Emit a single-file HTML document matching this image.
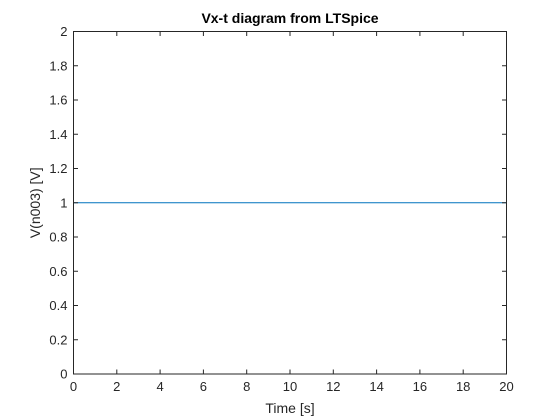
<!DOCTYPE html>
<html><head><meta charset="utf-8"><style>
body{margin:0;background:#fff;}
svg{display:block;font-family:"Liberation Sans",Arial,sans-serif;}
</style></head><body>
<svg id="chart" width="560" height="420" viewBox="0 0 560 420">
<rect x="0" y="0" width="560" height="420" fill="#fff"/>
<g id="axes"></g>
</svg>
<script>
const xTicks=[0,2,4,6,8,10,12,14,16,18,20];
const yTicks=[0,0.2,0.4,0.6,0.8,1,1.2,1.4,1.6,1.8,2];
const yTickLabels=["0","0.2","0.4","0.6","0.8","1","1.2","1.4","1.6","1.8","2"];
const seriesT=[0,20];
const seriesV=[1,1];
const L=73.5,R=506.5,T=31.5,B=374;
const xs=v=>L+(v-0)/(20-0)*(R-L);
const ys=v=>B-(v-0)/(2-0)*(B-T);
const NS="http://www.w3.org/2000/svg";
const g=document.getElementById('axes');
function mk(tag,attrs,parent){const e=document.createElementNS(NS,tag);for(const k in attrs)e.setAttribute(k,attrs[k]);(parent||g).appendChild(e);return e;}
// series
const pts=seriesT.map((t,i)=>xs(t)+','+ys(seriesV[i])).join(' ');
const line=mk('polyline',{points:pts,fill:'none',stroke:'#0072bd','stroke-width':1});


// box
const box=mk('rect',{x:L,y:T,width:R-L,height:B-T,fill:'none',stroke:'#262626','stroke-width':1});


xTicks.forEach(v=>{
  const x=xs(v);
  mk('line',{x1:x,y1:B,x2:x,y2:B-4.5,stroke:'#262626'});
  mk('line',{x1:x,y1:T,x2:x,y2:T+4.5,stroke:'#262626'});
  const t=mk('text',{x:x,y:B+17,'text-anchor':'middle','font-size':13,fill:'#262626'});
  t.textContent=v;
  
  
});
yTicks.forEach((v,i)=>{
  const y=ys(v);
  mk('line',{x1:L,y1:y,x2:L+4.5,y2:y,stroke:'#262626'});
  mk('line',{x1:R,y1:y,x2:R-4.5,y2:y,stroke:'#262626'});
  const t=mk('text',{x:L-6,y:y+4.5,'text-anchor':'end','font-size':13,fill:'#262626'});
  t.textContent=yTickLabels[i];
  
  
});
const title=mk('text',{x:(L+R)/2,y:23,'text-anchor':'middle','font-size':14,'font-weight':'bold',fill:'#000'});
title.textContent='Vx-t diagram from LTSpice';


const xl=mk('text',{x:(L+R)/2,y:413,'text-anchor':'middle','font-size':14,fill:'#262626'});
xl.textContent='Time [s]';


const yl=mk('text',{x:0,y:0,'text-anchor':'middle','font-size':14,fill:'#262626',transform:'translate(40,'+((T+B)/2)+') rotate(-90)'});
yl.textContent='V(n003) [V]';


</script>
</body></html>
